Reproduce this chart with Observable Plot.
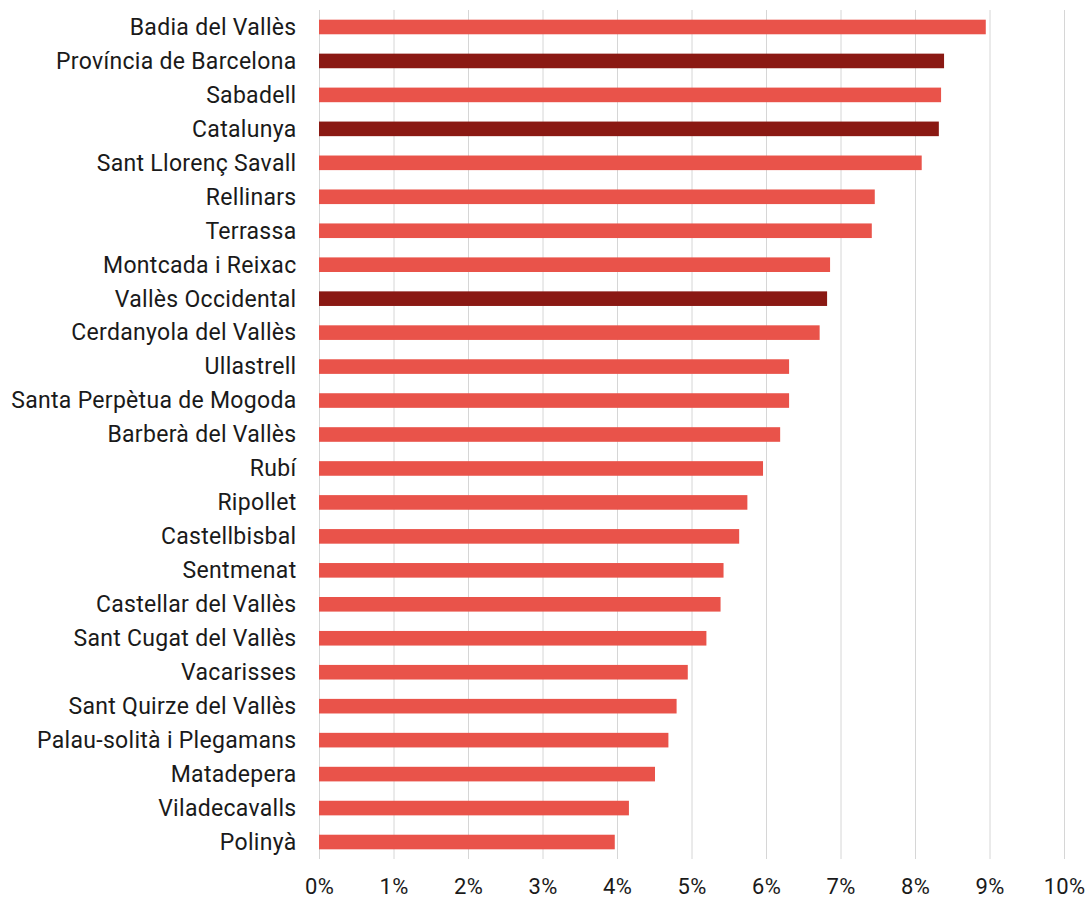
<!DOCTYPE html>
<html><head><meta charset="utf-8">
<script src="https://cdn.jsdelivr.net/npm/d3@7"></script>
<script src="https://cdn.jsdelivr.net/npm/@observablehq/plot@0.6"></script>
<style>body{margin:0;background:#fff;} #chart svg{display:block;}</style>
</head><body><div id="chart"></div>
<script>
const places = ["Badia del Vallès","Província de Barcelona","Sabadell","Catalunya","Sant Llorenç Savall","Rellinars","Terrassa","Montcada i Reixac","Vallès Occidental","Cerdanyola del Vallès","Ullastrell","Santa Perpètua de Mogoda","Barberà del Vallès","Rubí","Ripollet","Castellbisbal","Sentmenat","Castellar del Vallès","Sant Cugat del Vallès","Vacarisses","Sant Quirze del Vallès","Palau-solità i Plegamans","Matadepera","Viladecavalls","Polinyà"];
const values = [8.95,8.39,8.35,8.32,8.09,7.46,7.42,6.86,6.82,6.72,6.31,6.31,6.19,5.96,5.75,5.64,5.43,5.39,5.20,4.95,4.80,4.69,4.51,4.16,3.97];
const aggregates = ["Província de Barcelona","Catalunya","Vallès Occidental"];
const xTicks = [0,1,2,3,4,5,6,7,8,9,10];

const data = places.map((p,i)=>({place:p, value:values[i], group: aggregates.includes(p) ? "agg" : "muni"}));

const chart = Plot.plot({
  width:1089, height:900,
  marginLeft:319, marginRight:25, marginTop:10, marginBottom:41,
  style:{fontFamily:"Roboto", fontSize:"22px", color:"#1a1a1a", background:"#fff"},
  x:{domain:[0,10], label:null},
  y:{domain:places, label:null, paddingInner:0.57, paddingOuter:0.285, round:false},
  color:{domain:["muni","agg"], range:["#E9534A","#8A1913"]},
  marks:[
    Plot.gridX(xTicks,{stroke:"#d6d6d6", strokeOpacity:1, strokeWidth:1}),
    Plot.barX(data,{x:"value", y:"place", fill:"group"}),
    Plot.axisX(xTicks,{tickSize:0, tickPadding:19, tickFormat:d=>d+"%", fontSize:22, label:null}),
    Plot.axisY({tickSize:0, tickPadding:23, fontSize:23, label:null})
  ]
});
chart.querySelectorAll("text").forEach(t=>{ t.style.letterSpacing="0.3px"; });
document.getElementById("chart").appendChild(chart);
</script>
</body></html>
